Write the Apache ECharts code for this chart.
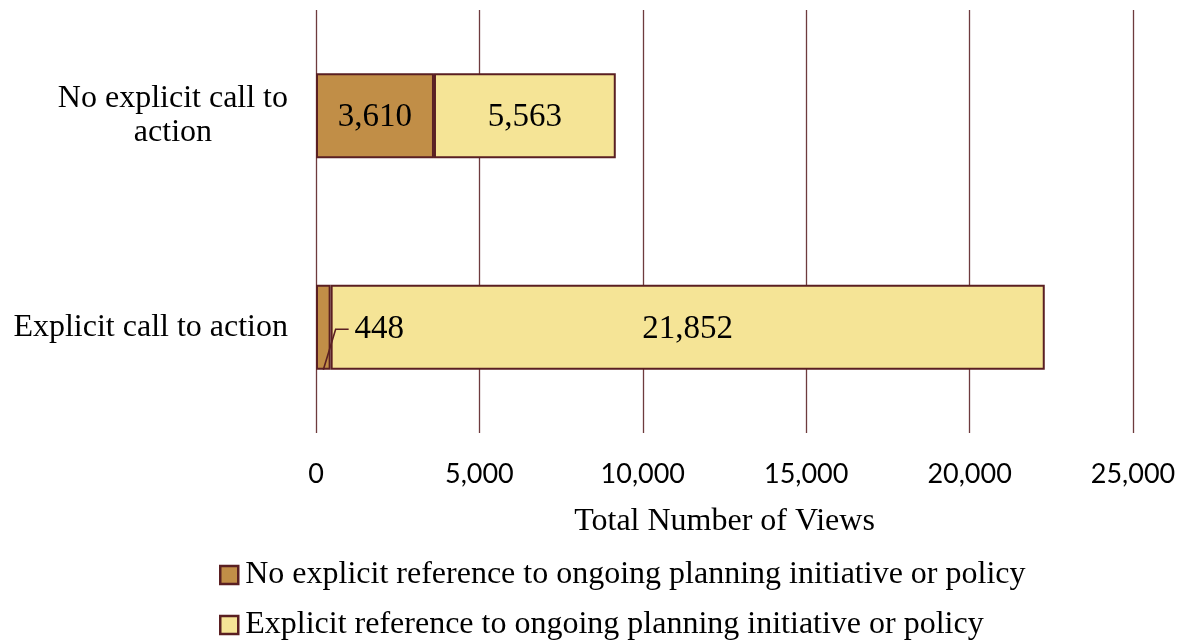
<!DOCTYPE html>
<html>
<head>
<meta charset="utf-8">
<script src="https://cdn.jsdelivr.net/npm/echarts@6/dist/echarts.min.js"></script>
<style>
  html, body { margin: 0; padding: 0; background: #fff; }
  #chart { width: 1183px; height: 641px; }
</style>
</head>
<body>
<div id="chart"></div>
<script>
// Views by call to action, split by reference to planning initiative
const categories = ['Explicit call to action', 'No explicit call to action'];
const seriesNames = [
  'No explicit reference to ongoing planning initiative or policy',
  'Explicit reference to ongoing planning initiative or policy'
];
const noReference = [448, 3610];
const withReference = [21852, 5563];
const tickValues = [0, 5000, 10000, 15000, 20000, 25000];

const serif = 'Liberation Serif';
const edge = '#5a1f22';
const barThickness = 85;

const chart = echarts.init(document.getElementById('chart'));

const fmt = v => v.toLocaleString('en-US');

const valueLabel = {
  show: true,
  position: 'inside',
  fontFamily: serif,
  fontSize: 33,
  color: '#000',
  formatter: p => fmt(p.value)
};

chart.setOption({
  animation: false,
  grid: { left: 316, right: 50, top: 10, bottom: 208, containLabel: false },
  xAxis: {
    type: 'value',
    min: tickValues[0],
    max: tickValues[tickValues.length - 1],
    interval: 5000,
    axisLine: { show: false },
    axisTick: { show: false },
    splitLine: { lineStyle: { color: '#6e3b3e', width: 1.3 } },
    axisLabel: {
      margin: 28,
      fontFamily: 'Lato',
      fontSize: 27,
      color: '#000',
      formatter: v => fmt(v)
    },
    name: 'Total Number of Views',
    nameLocation: 'middle',
    nameGap: 73,
    nameTextStyle: { fontFamily: serif, fontSize: 32, color: '#000' }
  },
  yAxis: {
    type: 'category',
    data: categories,
    axisLine: { show: false },
    axisTick: { show: false },
    axisLabel: {
      margin: 28,
      formatter: v => {
        const text = v === 'No explicit call to action' ? 'No explicit call to\naction' : v;
        return text.split('\n').map(l => '{c|' + l + '}').join('\n');
      },
      rich: {
        c: { align: 'center', fontFamily: serif, fontSize: 32, color: '#000', lineHeight: 34 }
      }
    }
  },
  legend: {
    orient: 'vertical',
    left: 214,
    top: 554,
    height: 110,
    itemWidth: 18,
    itemHeight: 18,
    itemGap: 18,
    icon: 'rect',
    itemStyle: { borderWidth: 2.5, borderColor: edge },
    textStyle: { fontFamily: serif, fontSize: 32, color: '#000', lineHeight: 28, padding: [0, 0, 0, 2] },
    data: seriesNames
  },
  series: [
    {
      name: seriesNames[0],
      type: 'bar',
      stack: 'views',
      barWidth: barThickness,
      data: noReference,
      itemStyle: { color: '#c18e47', borderColor: edge, borderWidth: 2 },
      label: valueLabel,
      labelLayout: p => p.dataIndex === 0 ? { dx: 56, dy: 2 } : { dy: 2 }
    },
    {
      name: seriesNames[1],
      type: 'bar',
      stack: 'views',
      barWidth: barThickness,
      data: withReference,
      itemStyle: { color: '#f5e496', borderColor: edge, borderWidth: 2 },
      label: valueLabel,
      labelLayout: { dy: 2 }
    }
  ]
});

// Leader line from the thin 448 segment out to its moved label
(function drawLeader() {
  const mid = chart.convertToPixel({ gridIndex: 0 }, [noReference[0] / 2, categories[0]]);
  const end = chart.convertToPixel({ gridIndex: 0 }, [noReference[0], categories[0]]);
  const bottom = mid[1] + barThickness / 2;
  const labelY = mid[1] + 2;
  chart.setOption({
    graphic: [{
      type: 'polyline',
      shape: { points: [[mid[0], bottom], [end[0] + 5, labelY], [end[0] + 18, labelY]] },
      style: { stroke: edge, lineWidth: 1.6, fill: null },
      z: 10
    }]
  });
})();
</script>
</body>
</html>
